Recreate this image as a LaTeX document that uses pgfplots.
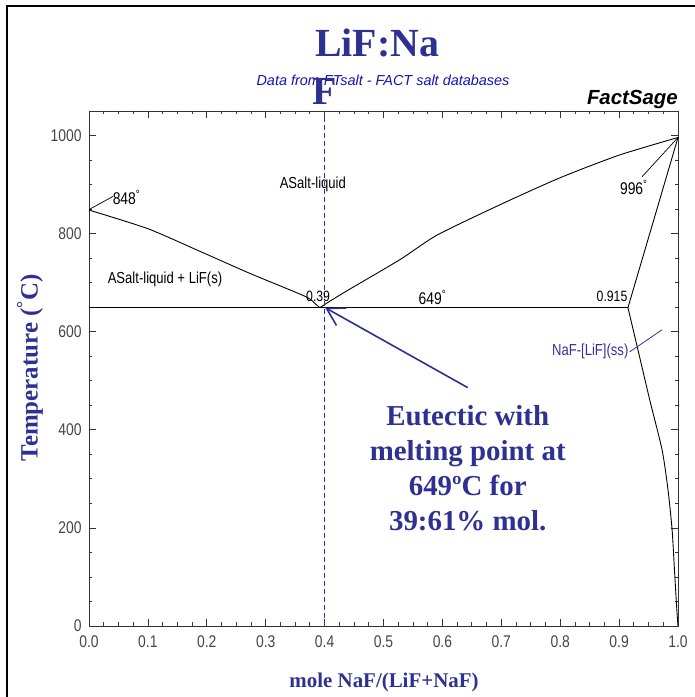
\documentclass[border=0pt]{standalone}
\usepackage{fontspec}
\setmainfont{Liberation Serif}
\newfontfamily\narrow[FakeStretch=0.82]{Liberation Sans}
\newfontfamily\arial{Liberation Sans}
\usepackage{pgfplots}
\pgfplotsset{compat=1.18}
\usetikzlibrary{arrows.meta}
\definecolor{navy}{RGB}{46,49,146}
\definecolor{dblue}{RGB}{20,20,180}
\definecolor{sblue}{RGB}{50,50,160}
\definecolor{dashblue}{RGB}{40,55,160}
\definecolor{tickgray}{RGB}{70,70,70}
\begin{document}
\begin{tikzpicture}
\useasboundingbox (0,0) rectangle (695bp,697bp);
\fill[white] (0,0) rectangle (695bp,697bp);
\draw[line width=1.7bp] (7bp,0) -- (7bp,691bp) -- (697bp,691bp);
\begin{axis}[
  at={(89bp,71bp)}, anchor=south west, scale only axis,
  width=589bp, height=515bp,
  xmin=0, xmax=1, ymin=0, ymax=1050,
  xtick={0,0.1,0.2,0.3,0.4,0.5,0.6,0.7,0.8,0.9,1.0},
  ytick={0,200,400,600,800,1000},
  minor tick num=3,
  tick align=inside,
  major tick length=7bp, minor tick length=3.5bp,
  axis line style={line width=0.9bp, draw=black!80},
  every tick/.style={black!80, line width=0.8bp},
  clip=false,
  scaled ticks=false,
  /pgf/number format/assume math mode=true,
  ticklabel style={font=\narrow\fontsize{17}{17}\selectfont, text=tickgray},
  xticklabel style={/pgf/number format/.cd, fixed, fixed zerofill, precision=1, /tikz/yshift=-6bp},
  yticklabel style={/pgf/number format/1000 sep={}, xshift=-4bp},
]
% liquidus, LiF side
\addplot[black, line width=0.9bp, smooth, tension=0.4] coordinates {(0,848) (0.1,810) (0.19,763) (0.273,719) (0.367,672) (0.385,656) (0.392,649)};
% liquidus, NaF side
\addplot[black, line width=0.9bp, smooth, tension=0.4] coordinates {(0.392,649) (0.41,663) (0.443,687) (0.528,747) (0.591,797) (0.698,859) (0.8,914) (0.9,960) (1.0,996)};
% eutectic line
\addplot[black, line width=0.9bp] coordinates {(0,649) (0.915,649)};
% solidus of NaF(ss)
\addplot[black, line width=0.9bp] coordinates {(0.915,649) (1.0,996)};
% solvus
\addplot[black, line width=0.9bp, smooth, tension=0.4] coordinates {(0.915,649) (0.932,563) (0.952,461) (0.973,359) (0.983,278) (0.990,196) (0.994,114) (0.998,33) (1.0,0)};
% leader lines
\addplot[black, line width=0.7bp] coordinates {(0,849) (0.041,876)};
\addplot[black, line width=0.7bp] coordinates {(1.0,996) (0.939,916)};
\addplot[sblue, line width=0.8bp] coordinates {(0.918,559) (0.973,604)};
% dashed composition line
\addplot[dashblue, line width=1.3bp, dash pattern=on 5bp off 3bp] coordinates {(0.4,0) (0.4,1050)};
% arrow
\draw[navy, line width=1.6bp, -{Straight Barb[length=17bp, width=20bp]}] (axis cs:0.643,486) -- (axis cs:0.401,649);
% labels
\node[font=\narrow\fontsize{17}{17}\selectfont, anchor=west, inner sep=0pt] at (axis cs:0.04,874) {848\textsuperscript{°}};
\node[font=\narrow\fontsize{16}{16}\selectfont] at (axis cs:0.38,900) {ASalt-liquid};
\node[font=\narrow\fontsize{16}{16}\selectfont] at (axis cs:0.129,706) {ASalt-liquid + LiF(s)};
\node[font=\narrow\fontsize{15}{15}\selectfont] at (axis cs:0.389,673) {0.39};
\node[font=\narrow\fontsize{17}{17}\selectfont] at (axis cs:0.583,670) {649\textsuperscript{°}};
\node[font=\narrow\fontsize{15}{15}\selectfont] at (axis cs:0.888,673) {0.915};
\node[font=\narrow\fontsize{17}{17}\selectfont] at (axis cs:0.925,894) {996\textsuperscript{°}};
\node[sblue, font=\narrow\fontsize{16}{16}\selectfont] at (axis cs:0.851,559) {NaF-[LiF](ss)};
\node[navy, font=\bfseries\fontsize{29}{35}\selectfont, align=center] at (axis cs:0.643,322) {Eutectic with\\melting point at\\649ºC for\\39:61\% mol.};
\end{axis}
% titles outside the axis
\node[dblue, font=\arial\itshape\fontsize{14.5}{14.5}\selectfont, anchor=base] at (383bp,611bp) {Data from FTsalt - FACT salt databases};
\node[navy, font=\bfseries\fontsize{40}{40}\selectfont, anchor=base] at (377bp,640bp) {LiF:Na};
\node[navy, font=\bfseries\fontsize{40}{40}\selectfont, anchor=base] at (325bp,592bp) {F};
\node[font=\arial\bfseries\itshape\fontsize{20.5}{20.5}\selectfont, anchor=base east, inner sep=0pt] at (678bp,592bp) {FactSage};
\node[navy, rotate=90, font=\bfseries\fontsize{25}{25}\selectfont] at (30bp,329bp) {Temperature (\textsuperscript{°}C)};
\node[navy, font=\bfseries\fontsize{21}{21}\selectfont, anchor=base] at (384bp,10bp) {mole NaF/(LiF+NaF)};
\end{tikzpicture}
\end{document}
